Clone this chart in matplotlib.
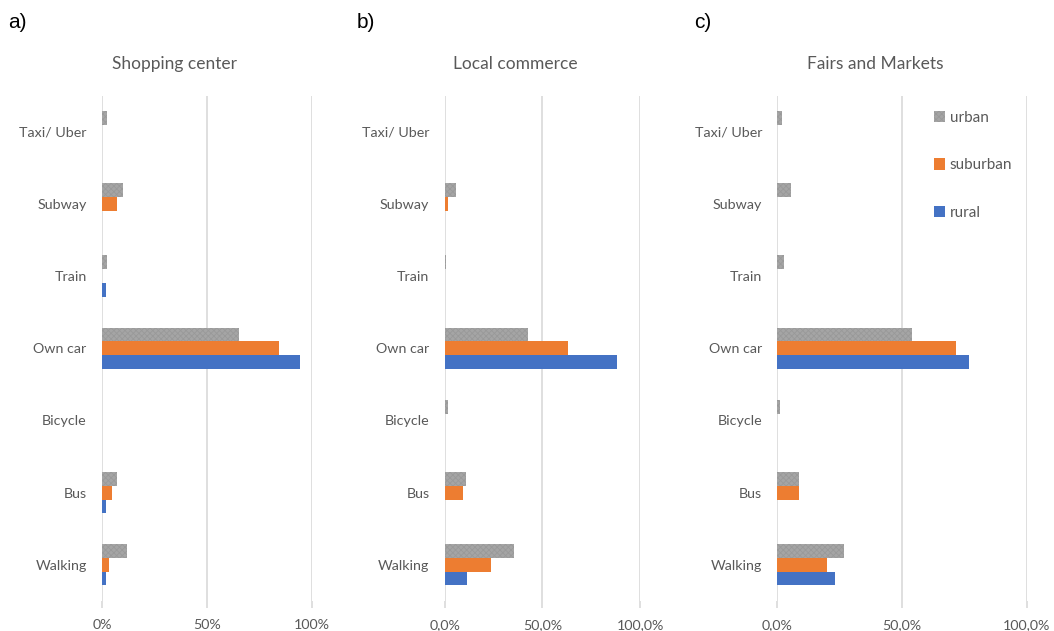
import matplotlib
matplotlib.use("Agg")
import matplotlib.pyplot as plt
from matplotlib.ticker import FuncFormatter

plt.rcParams["font.family"] = ["Lato", "DejaVu Sans"]
plt.rcParams["hatch.linewidth"] = 0.6

modes = ["Walking", "Bus", "Bicycle", "Own car", "Train", "Subway", "Taxi/ Uber"]
series = ["urban", "suburban", "rural"]
colors = {"urban": "#A5A5A5", "suburban": "#ED7D31", "rural": "#4472C4"}

titles = ["Shopping center", "Local commerce", "Fairs and Markets"]
panel_tags = ["a)", "b)", "c)"]

# shares in percent, ordered like `modes`
shopping_urban = [11.8, 7.0, 0.0, 65.4, 2.2, 10.2, 2.2]
shopping_suburban = [3.3, 4.9, 0.0, 84.4, 0.0, 7.0, 0.0]
shopping_rural = [1.8, 1.8, 0.0, 94.4, 1.8, 0.0, 0.0]

local_urban = [35.7, 10.9, 1.5, 42.4, 0.7, 5.8, 0.0]
local_suburban = [23.8, 9.2, 0.0, 63.3, 0.0, 1.9, 0.0]
local_rural = [11.4, 0.0, 0.0, 88.1, 0.0, 0.0, 0.0]

fairs_urban = [26.7, 8.6, 1.0, 54.0, 2.8, 5.5, 2.0]
fairs_suburban = [20.0, 8.6, 0.0, 71.4, 0.0, 0.0, 0.0]
fairs_rural = [23.2, 0.0, 0.0, 76.6, 0.0, 0.0, 0.0]

panels = [
    {"urban": shopping_urban, "suburban": shopping_suburban, "rural": shopping_rural},
    {"urban": local_urban, "suburban": local_suburban, "rural": local_rural},
    {"urban": fairs_urban, "suburban": fairs_suburban, "rural": fairs_rural},
]
tick_formats = ["{:.0f}%", "{:.1f}%", "{:.1f}%"]

W, H = 1054, 631
fig = plt.figure(figsize=(W / 100, H / 100), dpi=100)

# axes boxes in pixels: left, right
boxes = [(102, 312), (444.7, 640), (777.3, 1027)]
top_px, bottom_px = 95.5, 601
title_x = [175, 515, 875]
tag_x = [8, 357, 694]

bar_h = 0.19
offsets = {"urban": bar_h, "suburban": 0.0, "rural": -bar_h}
ypos = list(range(len(modes)))

grid_c = "#D9D9D9"
text_c = "#595959"

for i, (l, r) in enumerate(boxes):
    ax = fig.add_axes([l / W, 1 - bottom_px / H, (r - l) / W, (bottom_px - top_px) / H])
    data = panels[i]
    for s in series:
        vals = data[s]
        kw = dict(height=bar_h, color=colors[s], linewidth=0, zorder=3)
        if s == "urban":
            kw.update(hatch="xxxxxx", edgecolor="#999999")
        ax.barh([y + offsets[s] for y in ypos], vals, label=s, **kw)
    ax.set_xlim(0, 100)
    ax.set_ylim(-0.5, len(modes) - 0.5)
    ax.set_xticks([0, 50, 100])
    fmt = tick_formats[i]
    ax.xaxis.set_major_formatter(FuncFormatter(lambda v, p, f=fmt: f.format(v).replace(".", ",")))
    ax.set_yticks(ypos)
    ax.set_yticklabels(modes)
    ax.grid(axis="x", color=grid_c, linewidth=1.2, zorder=0)
    for sp in ax.spines.values():
        sp.set_visible(False)
    ax.tick_params(axis="x", length=5, color=grid_c, width=1.2, labelsize=10.3,
                   labelcolor=text_c, pad=8)
    ax.tick_params(axis="y", length=0, labelsize=10.3, labelcolor=text_c, pad=11)
    fig.text(title_x[i] / W, 1 - 64 / H, titles[i], ha="center", va="center",
             fontsize=12.5, color=text_c)
    fig.text(tag_x[i] / W, 1 - 22 / H, panel_tags[i], ha="left", va="center",
             fontsize=15, color="black", family=["Liberation Sans", "DejaVu Sans"])
    if i == 2:
        ax.legend(loc="upper left", bbox_to_anchor=((920 - l) / (r - l), 1 - (97 - top_px) / (bottom_px - top_px)),
                  frameon=False, fontsize=11, labelcolor=text_c, handlelength=0.75,
                  handleheight=0.75, handletextpad=0.3, labelspacing=2.2)

fig.savefig("out.png", dpi=100)
